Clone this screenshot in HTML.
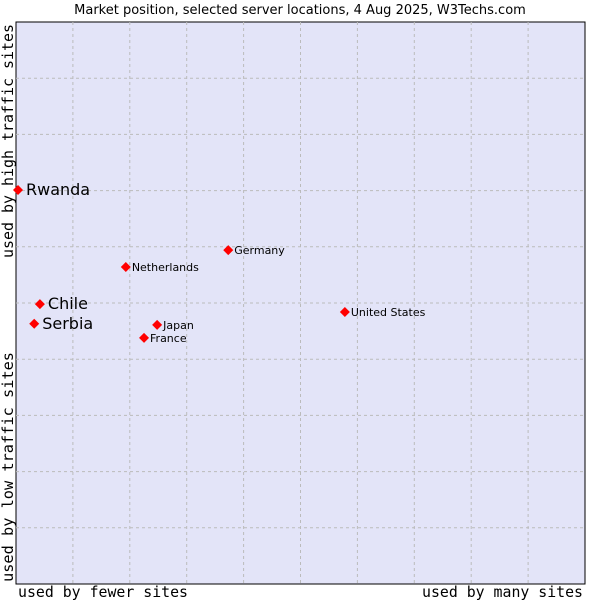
<!DOCTYPE html>
<html><head><meta charset="utf-8"><style>
body{margin:0;background:#fff;}
svg{display:block;}
</style></head><body>
<svg id="chart" width="600" height="600" xmlns="http://www.w3.org/2000/svg">
<text x="300" y="14" text-anchor="middle" font-family="DejaVu Sans, sans-serif" font-size="13" fill="#000">Market position, selected server locations, 4 Aug 2025, W3Techs.com</text>
<rect x="16" y="22" width="569" height="562" fill="#e3e4f8" stroke="#000" stroke-width="1"/>
<g id="grid"></g>
<text x="18" y="597" textLength="170" lengthAdjust="spacingAndGlyphs" font-family="DejaVu Sans Mono, Liberation Mono, monospace" font-size="15">used by fewer sites</text>
<text x="422" y="597" textLength="161" lengthAdjust="spacingAndGlyphs" font-family="DejaVu Sans Mono, Liberation Mono, monospace" font-size="15">used by many sites</text>
<text transform="translate(13,582) rotate(-90)" textLength="230" lengthAdjust="spacingAndGlyphs" font-family="DejaVu Sans Mono, Liberation Mono, monospace" font-size="15">used by low traffic sites</text>
<text transform="translate(13,258) rotate(-90)" textLength="234" lengthAdjust="spacingAndGlyphs" font-family="DejaVu Sans Mono, Liberation Mono, monospace" font-size="15">used by high traffic sites</text>
<g id="points"></g>
</svg>
<script>
const countries = ["Rwanda","Chile","Serbia","Netherlands","Germany","Japan","France","United States"];
const xValues = [0.35,4.2,3.2,19.3,37.3,24.8,22.5,57.8];
const yValues = [70.1,49.8,46.3,56.4,59.4,46.1,43.8,48.4];
const highlighted = [true,true,true,false,false,false,false,false];
const NS="http://www.w3.org/2000/svg";
const L=16,T=22,W=569,H=562;
function sx(v){return L+v/100*W;}
function sy(v){return T+H-v/100*H;}
const grid=document.getElementById('grid');
for(let i=1;i<10;i++){
  const v=document.createElementNS(NS,'line');
  v.setAttribute('x1',sx(i*10));v.setAttribute('x2',sx(i*10));
  v.setAttribute('y1',T);v.setAttribute('y2',T+H);
  v.setAttribute('stroke','#bbb');v.setAttribute('stroke-dasharray','3,3');
  
  
  grid.appendChild(v);
  const h=document.createElementNS(NS,'line');
  h.setAttribute('y1',sy(i*10));h.setAttribute('y2',sy(i*10));
  h.setAttribute('x1',L);h.setAttribute('x2',L+W);
  h.setAttribute('stroke','#bbb');h.setAttribute('stroke-dasharray','3,3');
  
  
  grid.appendChild(h);
}
const pts=document.getElementById('points');
countries.forEach((c,i)=>{
  const x=sx(xValues[i]),y=sy(yValues[i]);
  const d=document.createElementNS(NS,'polygon');
  d.setAttribute('points',`${x},${y-5} ${x+5},${y} ${x},${y+5} ${x-5},${y}`);
  d.setAttribute('fill','#f00');
  
  
  pts.appendChild(d);
  const t=document.createElementNS(NS,'text');
  const big=highlighted[i];
  t.setAttribute('x',x+(big?8:6));
  t.setAttribute('y',y+(big?5:4));
  t.setAttribute('font-family','DejaVu Sans, sans-serif');
  t.setAttribute('font-size',big?16:11);
  t.textContent=c;
  
  
  pts.appendChild(t);
});
</script>
</body></html>
